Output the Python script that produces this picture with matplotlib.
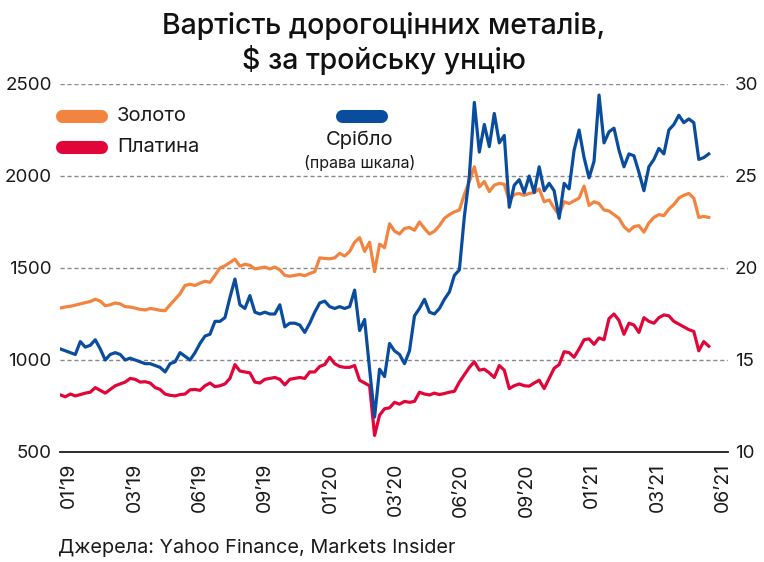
import numpy as np
import pandas as pd
import matplotlib
matplotlib.use("Agg")
import matplotlib.pyplot as plt
import matplotlib.dates as mdates
from matplotlib.lines import Line2D

# ---------------- data (weekly) ----------------
dates = pd.date_range("2019-01-01", periods=131, freq="7D")

gold = [1283, 1288, 1292, 1298, 1305, 1312, 1318, 1330, 1320, 1295,
        1300, 1310, 1305, 1290, 1288, 1282, 1275, 1272, 1280, 1276,
        1270, 1268, 1300, 1330, 1360, 1405, 1412, 1405, 1418, 1428,
        1422, 1460, 1500, 1512, 1530, 1548, 1510, 1520, 1515, 1495,
        1500, 1505, 1495, 1505, 1490, 1460, 1455, 1460, 1465, 1458,
        1470, 1480, 1555, 1552, 1550, 1555, 1580, 1565, 1590, 1640,
        1665, 1590, 1640, 1480, 1630, 1610, 1740, 1700, 1685, 1715,
        1720, 1705, 1750, 1715, 1685, 1700, 1730, 1770, 1790, 1805,
        1815, 1900, 1970, 2050, 1940, 1970, 1915, 1950, 1960, 1955,
        1865, 1900, 1905, 1895, 1905, 1910, 1930, 1860, 1870, 1825,
        1790, 1860, 1850, 1865, 1880, 1945, 1840, 1860, 1850, 1815,
        1810, 1790, 1770, 1725, 1700, 1725, 1730, 1695, 1745, 1775,
        1790, 1785, 1820, 1845, 1880, 1895, 1905, 1880, 1775, 1780,
        1775]

platinum = [810, 800, 815, 805, 812, 820, 825, 850, 835, 820,
            840, 860, 870, 880, 900, 895, 880, 882, 875, 850,
            840, 815, 808, 805, 812, 815, 838, 840, 835, 860,
            875, 855, 860, 870, 900, 975, 940, 935, 930, 880,
            875, 895, 900, 905, 895, 865, 895, 900, 905, 900,
            935, 935, 965, 975, 1015, 980, 965, 960, 960, 970,
            890, 875, 860, 590, 700, 735, 740, 770, 760, 775,
            770, 775, 825, 815, 810, 820, 812, 818, 825, 830,
            880, 920, 960, 990, 945, 950, 930, 905, 970, 945,
            845, 860, 870, 860, 858, 875, 890, 845, 900, 955,
            975, 1045, 1040, 1015, 1060, 1110, 1115, 1085, 1120, 1110,
            1225, 1250, 1215, 1140, 1200, 1190, 1150, 1230, 1210, 1200,
            1230, 1245, 1240, 1210, 1195, 1180, 1165, 1155, 1050, 1100,
            1075]

silver = [15.6, 15.5, 15.4, 15.3, 16.0, 15.7, 15.8, 16.1, 15.6, 15.0,
          15.3, 15.4, 15.3, 15.0, 15.1, 15.0, 14.9, 14.8, 14.8, 14.7,
          14.6, 14.35, 14.8, 14.9, 15.4, 15.2, 15.0, 15.4, 15.9, 16.3,
          16.4, 17.1, 17.1, 17.3, 18.4, 19.4, 18.0, 17.8, 18.5, 17.6,
          17.5, 17.6, 17.5, 17.5, 18.0, 16.8, 17.0, 17.0, 16.9, 16.5,
          17.0, 17.6, 18.1, 18.2, 17.9, 17.8, 17.9, 17.8, 17.9, 18.8,
          16.6, 17.2, 14.5, 11.9, 14.5, 14.1, 15.9, 15.5, 15.3, 14.8,
          15.5, 17.4, 17.8, 18.3, 17.6, 17.5, 17.8, 18.3, 18.7, 19.6,
          19.9, 22.8, 25.0, 29.0, 26.3, 27.8, 26.6, 28.4, 26.8, 27.2,
          23.3, 24.5, 24.8, 24.1, 25.0, 24.1, 25.5, 24.2, 24.6, 24.2,
          22.7, 24.6, 24.3, 26.4, 27.5, 26.0, 24.9, 25.8, 29.4, 26.8,
          27.4, 27.6, 26.4, 25.5, 26.2, 26.1, 25.2, 24.2, 25.5, 25.9,
          26.5, 26.2, 27.5, 27.8, 28.3, 27.9, 28.1, 27.9, 25.9, 26.0,
          26.2]

tick_labels = ["01’19", "03’19", "06’19", "09’19", "01’20", "03’20",
               "06’20", "09’20", "01’21", "03’21", "06’21"]
left_ticks = [500, 1000, 1500, 2000, 2500]
right_ticks = [10, 15, 20, 25, 30]

title1 = "Вартість дорогоцінних металів,"
title2 = "$ за тройську унцію"
source = "Джерела: Yahoo Finance, Markets Insider"

# ---------------- style ----------------
C_GOLD = "#F2843F"
C_PLAT = "#E2053A"
C_SILV = "#0A4D9E"

plt.rcParams["font.family"] = ["Inter", "DejaVu Sans"]

W, H = 764, 562
fig = plt.figure(figsize=(W / 100, H / 100), dpi=100)
fig.patch.set_facecolor("white")


def fx(x):
    return x / W


def fy(y):
    return 1 - y / H


ax = fig.add_axes([fx(60), fy(452), (728 - 60) / W, (452 - 84) / H])
ax2 = ax.twinx()

ax.set_ylim(500, 2500)
ax2.set_ylim(10, 30)

d0 = mdates.date2num(dates[0])
ax.set_xlim(d0 - 0.5, d0 + 937)

for v in left_ticks[1:]:
    ax.axhline(v, color="#8a8a8a", lw=1.0, ls=(0, (3, 2)), zorder=1)

ax.plot(dates, gold, color=C_GOLD, lw=2.3, zorder=3, solid_joinstyle="round")
ax.plot(dates, platinum, color=C_PLAT, lw=2.3, zorder=3, solid_joinstyle="round")
ax2.plot(dates, silver, color=C_SILV, lw=2.3, zorder=3, solid_joinstyle="round")

for a in (ax, ax2):
    for s in ("top", "right", "left", "bottom"):
        a.spines[s].set_visible(False)
ax.spines["bottom"].set_visible(True)
ax.spines["bottom"].set_color("#1a1a1a")
ax.spines["bottom"].set_linewidth(1.3)
ax.spines["bottom"].set_zorder(5)

ax.set_yticks(left_ticks)
ax.set_yticklabels([str(v) for v in left_ticks])
ax2.set_yticks(right_ticks)
ax2.set_yticklabels([str(v) for v in right_ticks])
ax.tick_params(axis="y", length=0, pad=6, labelsize=13.5, labelcolor="#1a1a1a")
ax2.tick_params(axis="y", length=0, pad=5, labelsize=13.5, labelcolor="#1a1a1a")

ticks = d0 + np.linspace(12.6, 929.6, len(tick_labels))
ax.set_xticks(ticks)
ax.set_xticklabels(tick_labels, rotation=90)
ax.tick_params(axis="x", length=0, pad=8, labelsize=14, labelcolor="#1a1a1a")

# ---------------- title ----------------
fig.text(fx(384), fy(26), title1, ha="center", va="center", fontsize=20.5,
         fontweight="medium", color="#111111")
fig.text(fx(384), fy(60), title2, ha="center", va="center", fontsize=20.5,
         fontweight="medium", color="#111111")

# ---------------- legend ----------------
def legbar(x0, x1, y, c):
    fig.add_artist(Line2D([fx(x0), fx(x1)], [fy(y), fy(y)], color=c, lw=9.4,
                          solid_capstyle="round", transform=fig.transFigure))

legbar(62, 101, 116, C_GOLD)
legbar(62, 101, 147, C_PLAT)
legbar(342, 381, 116, C_SILV)
fig.text(fx(117), fy(116), "Золото", ha="left", va="center", fontsize=14.5, color="#1a1a1a")
fig.text(fx(117), fy(147), "Платина", ha="left", va="center", fontsize=14.5, color="#1a1a1a")
fig.text(fx(360), fy(140), "Срібло", ha="center", va="center", fontsize=14.5, color="#1a1a1a")
fig.text(fx(360), fy(163), "(права шкала)", ha="center", va="center", fontsize=11.5, color="#1a1a1a")

fig.text(fx(58), fy(548), source, ha="left", va="center", fontsize=14.3, color="#1a1a1a")

fig.savefig("out.png", dpi=100, facecolor="white")
